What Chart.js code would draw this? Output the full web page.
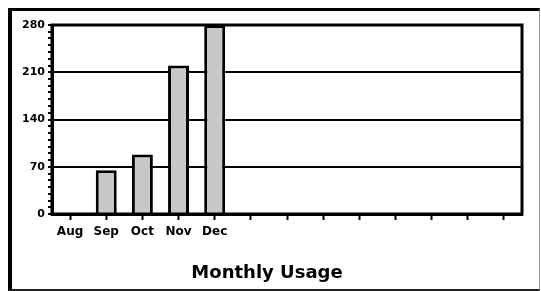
<!DOCTYPE html>
<html>
<head>
<meta charset="utf-8">
<script src="https://cdn.jsdelivr.net/npm/chart.js@4"></script>
<style>
    body { margin: 0; background: #fff; }
    #frame {
        position: absolute;
        left: 8px; top: 8px;
        width: 527px; height: 278px;
        border-left: 4px solid #000;
        border-top: 3px solid #000;
        border-right: 1px solid #999;
        border-bottom: 2px solid #222;
    }
</style>
</head>
<body>
<div id="frame"><canvas id="usageChart"></canvas></div>
<script>
// Months on the x axis (only the first five are labelled)
const months = ['Aug', 'Sep', 'Oct', 'Nov', 'Dec', '', '', '', '', '', '', '', ''];
const usage = [0, 65, 88, 220, 280, null, null, null, null, null, null, null, null];
const yLabels = [0, 70, 140, 210, 280];

// Draws the black frame round the plot area
const plotBorder = {
    id: 'plotBorder',
    afterDraw(chart) {
        const a = chart.chartArea;
        const ctx = chart.ctx;
        ctx.save();
        ctx.strokeStyle = '#000';
        ctx.lineWidth = 3;
        ctx.strokeRect(a.left, a.top, a.right - a.left, a.bottom - a.top);
        ctx.restore();
    }
};

new Chart(document.getElementById('usageChart'), {
    type: 'bar',
    data: {
        labels: months,
        datasets: [{
            data: usage,
            backgroundColor: '#c8c8c8',
            borderColor: '#000',
            borderWidth: 3,
            borderSkipped: 'bottom',
            barPercentage: 0.58,
            categoryPercentage: 1
        }]
    },
    options: {
        responsive: true,
        maintainAspectRatio: false,
        animation: false,
        layout: { padding: { top: 14, right: 17, bottom: 3, left: 0 } },
        plugins: {
            legend: { display: false },
            tooltip: { enabled: false },
            title: {
                display: true,
                position: 'bottom',
                text: 'Monthly Usage',
                color: '#000',
                font: { family: 'DejaVu Sans', size: 18, weight: 'bold' },
                padding: { top: 18, bottom: 2 }
            }
        },
        scales: {
            x: {
                grid: {
                    offset: false,
                    drawOnChartArea: false,
                    tickLength: 6,
                    tickWidth: 2,
                    tickColor: '#000'
                },
                border: { color: '#000', width: 3 },
                ticks: {
                    color: '#000',
                    padding: 5,
                    maxRotation: 0,
                    autoSkip: false,
                    font: { family: 'DejaVu Sans', size: 12, weight: 'bold' }
                }
            },
            y: {
                min: 0,
                max: 280,
                afterFit: function(scale) { scale.width = 40; },
                grid: {
                    color: function(ctx) {
                        return yLabels.includes(ctx.tick.value) ? '#000' : 'rgba(0,0,0,0)';
                    },
                    lineWidth: 2,
                    tickLength: 4,
                    tickColor: '#000',
                    tickWidth: 2
                },
                border: { color: '#000', width: 3 },
                ticks: {
                    stepSize: 10,
                    autoSkip: false,
                    color: '#000',
                    padding: 3,
                    font: { family: 'DejaVu Sans', size: 11, weight: 'bold' },
                    callback: function(value) {
                        return yLabels.includes(value) ? value : '';
                    }
                }
            }
        }
    },
    plugins: [plotBorder]
});
</script>
</body>
</html>
